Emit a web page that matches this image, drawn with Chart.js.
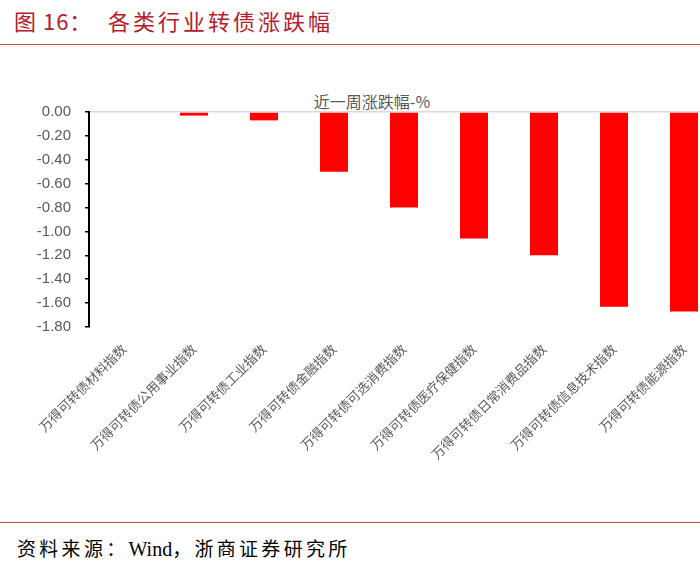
<!DOCTYPE html>
<html>
<head>
<meta charset="utf-8">
<script src="https://cdn.jsdelivr.net/npm/chart.js@4"></script>
<style>
  html, body { margin: 0; padding: 0; background: #fff; width: 700px; height: 566px; overflow: hidden; position: relative; }
  .hdr { position: absolute; top: 4px; font-family: "Noto Sans CJK SC", serif; font-size: 22px; color: #b3202b; white-space: pre; }
  #hdrA { left: 14px; letter-spacing: 1px; }
  #hdrB { left: 108px; letter-spacing: 3px; }
  #line1 { position: absolute; left: 0; top: 44px; width: 700px; height: 1px; background: #c0504d; }
  #line2 { position: absolute; left: 0; top: 522px; width: 700px; height: 1px; background: #c0504d; }
  #src { position: absolute; left: 17px; top: 534px; font-family: "Noto Sans CJK SC", serif; font-size: 19px; color: #000; letter-spacing: 3.3px; white-space: pre; }
  #src .en { font-family: "Liberation Serif", serif; letter-spacing: 0; font-size: 20px; }
  #ctitle { position: absolute; left: 272px; width: 200px; text-align: center; top: 89px; font-family: "Noto Sans CJK SC", sans-serif; font-size: 16px; color: #595959; }
  #wrap { position: absolute; left: 0; top: 60px; width: 720px; height: 400px; }
</style>
</head>
<body>
<div class="hdr" id="hdrA">图 16：</div>
<div class="hdr" id="hdrB">各类行业转债涨跌幅</div>
<div id="line1"></div>
<div id="ctitle">近一周涨跌幅-%</div>
<div id="wrap"><canvas id="c" width="720" height="400"></canvas></div>
<div id="line2"></div>
<div id="src">资料来源：<span class="en">Wind</span>，浙商证券研究所</div>
<script>
const categories = [
  "万得可转债材料指数",
  "万得可转债公用事业指数",
  "万得可转债工业指数",
  "万得可转债金融指数",
  "万得可转债可选消费指数",
  "万得可转债医疗保健指数",
  "万得可转债日常消费品指数",
  "万得可转债信息技术指数",
  "万得可转债能源指数"
];
const weeklyChange = [0.00, -0.03, -0.07, -0.50, -0.80, -1.06, -1.20, -1.63, -1.67];
const yTicks = [0, -0.2, -0.4, -0.6, -0.8, -1.0, -1.2, -1.4, -1.6, -1.8];

new Chart(document.getElementById('c'), {
  type: 'bar',
  data: {
    labels: categories,
    datasets: [{
      label: '近一周涨跌幅-%',
      data: weeklyChange,
      backgroundColor: '#ff0000',
      borderWidth: 0,
      categoryPercentage: 1,
      barPercentage: 0.4
    }]
  },
  options: {
    responsive: false,
    animation: false,
    devicePixelRatio: 1,
    layout: { padding: { top: 52, right: 1, left: 0, bottom: 0 } },
    plugins: { legend: { display: false }, title: { display: false }, tooltip: { enabled: false } },
    scales: {
      x: {
        grid: { display: false },
        border: { display: false },
        ticks: {
          color: '#595959',
          font: { family: '"Noto Sans CJK SC", sans-serif', size: 13 },
          minRotation: 45, maxRotation: 45,
          padding: 6,
          autoSkip: false
        },
        afterFit: s => { s.height = 133; }
      },
      y: {
        min: -1.8, max: 0,
        afterBuildTicks: s => { s.ticks = yTicks.map(v => ({ value: v })); },
        grid: {
          color: c => (c.tick && c.tick.value === 0) ? '#d9d9d9' : 'rgba(0,0,0,0)',
          lineWidth: 1.5,
          tickColor: '#000',
          tickLength: 4,
          drawTicks: true
        },
        border: { color: '#000', width: 2 },
        ticks: {
          color: '#595959',
          font: { family: '"Liberation Sans", sans-serif', size: 15 },
          padding: 14,
          callback: v => Number(v).toFixed(2)
        },
        afterFit: s => { s.width = 89; }
      }
    }
  }
});
</script>
</body>
</html>
